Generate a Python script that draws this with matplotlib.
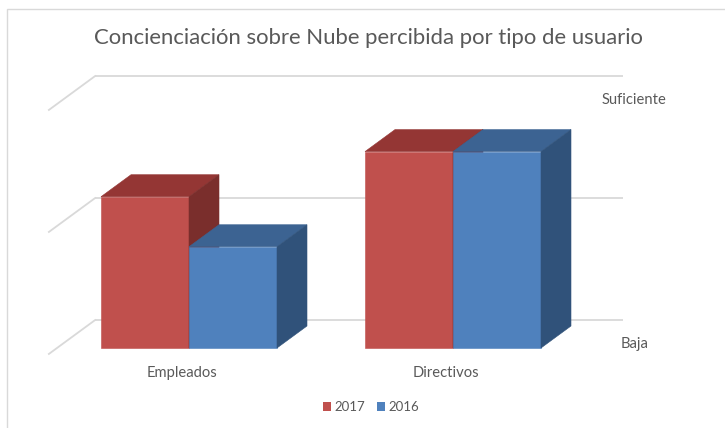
import matplotlib
matplotlib.use("Agg")
import matplotlib.pyplot as plt
from matplotlib.patches import Polygon, Patch, Rectangle
import numpy as np

# ---- data ----
categories = ["Empleados", "Directivos"]
series_names = ["2017", "2016"]
values_2017 = [1.24, 1.61]
values_2016 = [0.83, 1.61]
level_ticks = [0, 1, 2]
level_labels = ["Baja", "", "Suficiente"]
title = "Concienciación sobre Nube percibida por tipo de usuario"

# ---- style ----
front_cols = ["#C0504D", "#4F81BD"]
top_cols = ["#943634", "#3C6392"]
side_cols = ["#7A2E2C", "#30527A"]
grid_col = "#D9D9D9"
text_col = "#595959"
FONT = ["Lato", "DejaVu Sans"]

W, H = 725, 428
fig = plt.figure(figsize=(W / 100, H / 100), dpi=100)
ax = fig.add_axes([0, 0, 1, 1])
ax.set_axis_off()
renderer = fig.canvas.get_renderer()


def fit_width(txt, target_px):
    bb = txt.get_window_extent(renderer=renderer)
    txt.set_fontsize(txt.get_fontsize() * target_px / bb.width)
    return txt.get_fontsize()


# pixel <-> data mapping (category units horizontally, value units vertically)
PX_CAT = 264.0
PX_VAL = 122.0
X0_PX, Y0_PX = 189.0, 348.0
ax.set_xlim((0 - X0_PX) / PX_CAT, (W - X0_PX) / PX_CAT)
ax.set_ylim((Y0_PX - H) / PX_VAL, Y0_PX / PX_VAL)

# oblique depth vector for one bar depth
DX = 30 / PX_CAT
DY = 22 / PX_VAL
D_FRONT, D_BACK = -0.27, 1.27
x_left, x_right = -0.5, len(categories) - 0.5

# back wall gridlines + side wall diagonals
for v in level_ticks:
    ax.plot([x_left + D_BACK * DX, x_right + D_BACK * DX],
            [v + D_BACK * DY, v + D_BACK * DY], color=grid_col, lw=1.3, zorder=1,
            solid_capstyle="butt")
    ax.plot([x_left + D_FRONT * DX, x_left + D_BACK * DX],
            [v + D_FRONT * DY, v + D_BACK * DY], color=grid_col, lw=1.3, zorder=1)

# bars
bw = 1 / 3
series = [values_2017, values_2016]
z = 3
for i, cat in enumerate(categories):
    for s, vals in enumerate(series):
        v = vals[i]
        x0 = i - bw + s * bw
        x1 = x0 + bw
        ax.bar(x0, v, width=bw, align="edge", color=front_cols[s],
               edgecolor=front_cols[s], lw=0.4, zorder=z)
        ax.add_patch(Polygon([(x0, v), (x1, v), (x1 + DX, v + DY), (x0 + DX, v + DY)],
                             closed=True, facecolor=top_cols[s], edgecolor=top_cols[s],
                             lw=0.4, zorder=z))
        ax.add_patch(Polygon([(x1, 0), (x1, v), (x1 + DX, v + DY), (x1 + DX, DY)],
                             closed=True, facecolor=side_cols[s], edgecolor=side_cols[s],
                             lw=0.4, zorder=z))
        z += 1

# category labels
cat_texts = [ax.text(i - 0.025, -0.205, cat, ha="center", va="center", fontsize=10.5,
                     color=text_col, family=FONT) for i, cat in enumerate(categories)]
fs_small = fit_width(cat_texts[0], 71)
for t in cat_texts[1:]:
    t.set_fontsize(fs_small)

# value labels on the right
for t, lab in zip(level_ticks, level_labels):
    if lab:
        ax.text(1.686, t + 0.035, lab, ha="center", va="center", fontsize=fs_small,
                color=text_col, family=FONT)

# title
ttl = fig.text(369 / W, 1 - 38 / H, title, ha="center", va="center", fontsize=17,
               color=text_col, family=FONT)
fit_width(ttl, 548)

# legend
handles = [Patch(facecolor=front_cols[k], edgecolor="none") for k in range(2)]
leg = fig.legend(handles, series_names, loc="center", bbox_to_anchor=(371 / W, 1 - 407 / H),
                 ncol=2, frameon=False, handlelength=0.6, handleheight=0.6,
                 handletextpad=0.25, columnspacing=0.9,
                 prop={"family": FONT, "size": fs_small * 0.9})
for t in leg.get_texts():
    t.set_color(text_col)

# chart frame (left and top edges visible)
fig.patches.append(Rectangle((7 / W, -0.1), 1.2, 1 - 9 / H + 0.1, transform=fig.transFigure,
                             fill=False, edgecolor=grid_col, lw=1.0))

fig.savefig("out.png", dpi=100)
